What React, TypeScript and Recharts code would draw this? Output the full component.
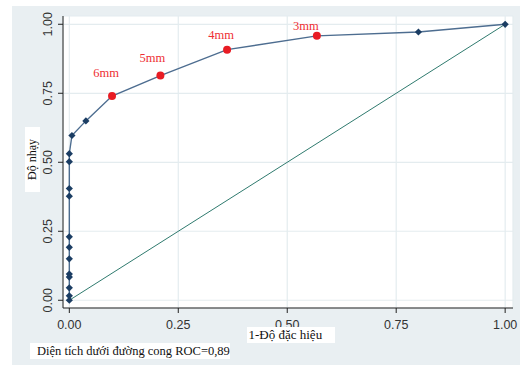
import {
  ComposedChart,
  Line,
  XAxis,
  YAxis,
  CartesianGrid,
} from "recharts";

// ROC points (1 - specificity, sensitivity)
const fpr = [0, 0, 0, 0, 0, 0, 0, 0, 0, 0, 0, 0, 0.006, 0.038, 0.098, 0.209, 0.362, 0.568, 0.801, 1];
const tpr = [0, 0.016, 0.045, 0.084, 0.095, 0.15, 0.192, 0.23, 0.377, 0.405, 0.502, 0.531, 0.597, 0.65, 0.74, 0.814, 0.908, 0.958, 0.972, 1];
const cutLabels = ["", "", "", "", "", "", "", "", "", "", "", "", "", "", "6mm", "5mm", "4mm", "3mm", "", ""];

const diagX = [0, 1];
const diagY = [0, 1];

const ticks = [0, 0.25, 0.5, 0.75, 1];

const rocData = fpr.map((x, i) => ({ x, y: tpr[i], cut: cutLabels[i] }));
const diagData = diagX.map((x, i) => ({ x, y: diagY[i] }));

// where each cut-off label sits relative to its dot
const LABEL_NUDGE: Record<string, [number, number]> = {
  "6mm": [-6, -23],
  "5mm": [-8, -18],
  "4mm": [-6, -15],
  "3mm": [-11, -10],
};

const BG = "#E9EFF2";
const GRID = "#E4ECEF";
const SANS = "'Liberation Sans', Arial, sans-serif";
const SERIF = "'Liberation Serif', 'Times New Roman', serif";

function RocDot(props: any) {
  const { cx, cy, payload, index } = props;
  if (cx == null || cy == null) return null;
  if (payload.cut) {
    const [dx, dy] = LABEL_NUDGE[payload.cut] || [-7, -17];
    return (
      <g key={`d-${index}`}>
        <circle cx={cx} cy={cy} r={4} fill="#E81C24" />
        <text
          x={cx + dx}
          y={cy + dy + 4}
          textAnchor="middle"
          fontFamily={SERIF}
          fontSize={12.5}
          fill="#EE2E33"
        >
          {payload.cut}
        </text>
      </g>
    );
  }
  const s = 3.6;
  return (
    <path
      key={`d-${index}`}
      d={`M${cx},${cy - s}L${cx + s},${cy}L${cx},${cy + s}L${cx - s},${cy}Z`}
      fill="#1B3D63"
    />
  );
}

function XTick(props: any) {
  const { x, y, payload } = props;
  return (
    <text x={x} y={y + 14} textAnchor="middle" fontFamily={SANS} fontSize={12.5} fill="#333">
      {payload.value.toFixed(2)}
    </text>
  );
}

function YTick(props: any) {
  const { x, y, payload } = props;
  const bx = x - 4;
  return (
    <text
      x={bx}
      y={y}
      transform={`rotate(-90, ${bx}, ${y})`}
      textAnchor="middle"
      fontFamily={SANS}
      fontSize={12.5}
      fill="#333"
    >
      {payload.value.toFixed(2)}
    </text>
  );
}

export default function App() {
  return (
    <div style={{ position: "absolute", left: 0, top: 0, width: 520, height: 367, background: "#fff" }}>
      <div style={{ position: "absolute", left: 12, top: 6, width: 508, height: 359, background: BG }} />
      <div style={{ position: "absolute", left: 0, top: 0 }}>
        <ComposedChart
          width={520}
          height={367}
          margin={{ top: 16, right: 7, bottom: 29, left: 13 }}
        >
          <CartesianGrid fill="#FFFFFF" stroke={GRID} strokeWidth={1.2} />
          <XAxis
            type="number"
            dataKey="x"
            domain={[-0.0145, 1.018]}
            ticks={ticks}
            allowDataOverflow
            height={30}
            tickSize={5}
            axisLine={{ stroke: "#222" }}
            tickLine={{ stroke: "#222" }}
            tick={<XTick />}
          />
          <YAxis
            type="number"
            dataKey="y"
            domain={[-0.028, 1.03]}
            ticks={ticks}
            allowDataOverflow
            width={50}
            tickSize={5}
            axisLine={{ stroke: "#222" }}
            tickLine={{ stroke: "#222" }}
            tick={<YTick />}
          />
          <Line
            data={diagData}
            dataKey="y"
            type="linear"
            stroke="#2F7A6E"
            strokeWidth={1}
            dot={false}
            isAnimationActive={false}
          />
          <Line
            data={rocData}
            dataKey="y"
            type="linear"
            stroke="#4D6D90"
            strokeWidth={1.4}
            dot={<RocDot />}
            isAnimationActive={false}
          />
        </ComposedChart>
      </div>
      <div
        style={{
          position: "absolute",
          left: 0,
          top: 152,
          width: 65,
          height: 15,
          transform: "rotate(-90deg)",
          background: "#fff",
          fontFamily: SERIF,
          fontSize: 12,
          lineHeight: "15px",
          textAlign: "center",
          color: "#111",
          whiteSpace: "nowrap",
        }}
      >
        Độ nhạy
      </div>
      <div
        style={{
          position: "absolute",
          left: 246.5,
          top: 327,
          width: 88,
          height: 16,
          background: "#fff",
          fontFamily: SERIF,
          fontSize: 13,
          lineHeight: "16px",
          paddingLeft: 2,
          boxSizing: "border-box",
          color: "#111",
          whiteSpace: "nowrap",
        }}
      >
        1-Độ đặc hiệu
      </div>
      <div
        style={{
          position: "absolute",
          left: 30,
          top: 343,
          width: 200,
          height: 16,
          background: "#fff",
          fontFamily: SERIF,
          fontSize: 12.5,
          lineHeight: "16px",
          paddingLeft: 7,
          boxSizing: "border-box",
          color: "#111",
          whiteSpace: "nowrap",
        }}
      >
        Diện tích dưới đường cong ROC=0,89
      </div>
    </div>
  );
}
